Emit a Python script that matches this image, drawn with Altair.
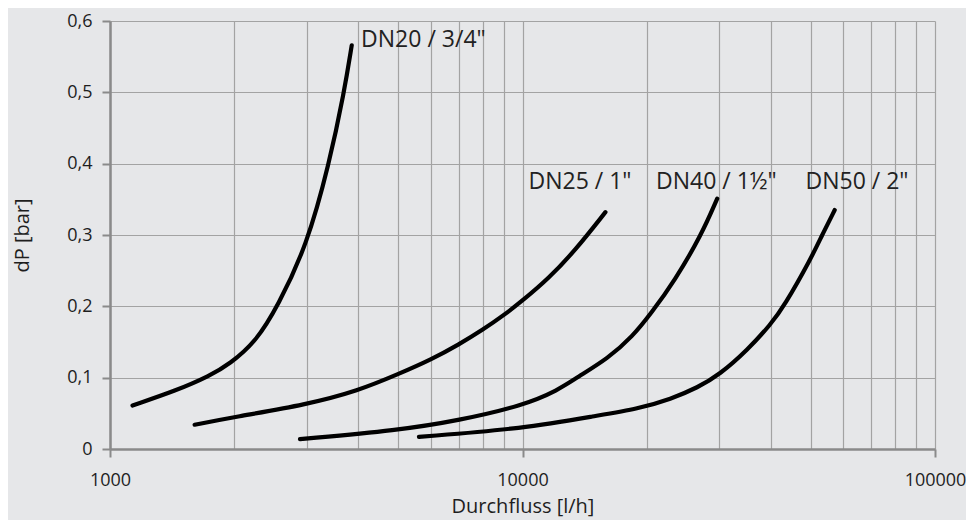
import altair as alt
import pandas as pd

# DN20 / 3/4"
dn20_x = [1134, 1449, 1744, 1950, 2262, 2550, 3000, 3399, 3695, 3855]
dn20_y = [0.061, 0.082, 0.1025, 0.119, 0.151, 0.200, 0.285, 0.400, 0.500, 0.566]
# DN25 / 1"
dn25_x = [1604, 2000, 3000, 4000, 5000, 6020, 7004, 8007, 9033, 10040, 11556, 13405, 15886]
dn25_y = [0.034, 0.0448, 0.0623, 0.0817, 0.105, 0.1256, 0.1464, 0.167, 0.188, 0.2088, 0.2388, 0.278, 0.332]
# DN40 / 1 1/2"
dn40_x = [2888, 5000, 7004, 10040, 12220, 13530, 16130, 18500, 20490, 23380, 27150, 29650]
dn40_y = [0.0139, 0.0263, 0.040, 0.061, 0.0827, 0.100, 0.127, 0.158, 0.190, 0.236, 0.300, 0.351]
# DN50 / 2"
dn50_x = [5610, 10040, 15260, 19060, 22940, 26610, 30000, 35150, 40000, 43050, 50000, 53160, 57130]
dn50_y = [0.017, 0.0286, 0.047, 0.0564, 0.0702, 0.0863, 0.104, 0.139, 0.175, 0.200, 0.2665, 0.299, 0.335]

series_names = ["DN20 / 3/4\"", "DN25 / 1\"", "DN40 / 1½\"", "DN50 / 2\""]
label_x = [4062, 10339, 21070, 48530]
label_y = [0.5736, 0.374, 0.374, 0.374]

x_grid_values = [1000, 2000, 3000, 4000, 5000, 6000, 7000, 8000, 9000,
                 10000, 20000, 30000, 40000, 50000, 60000, 70000, 80000, 90000, 100000]
y_values = [0, 0.1, 0.2, 0.3, 0.4, 0.5, 0.6]

rows = []
for name, xs, ys in zip(series_names, [dn20_x, dn25_x, dn40_x, dn50_x], [dn20_y, dn25_y, dn40_y, dn50_y]):
    for i, (xv, yv) in enumerate(zip(xs, ys)):
        rows.append({"series": name, "x": xv, "y": yv, "order": i})
df = pd.DataFrame(rows)
labels = pd.DataFrame({"series": series_names, "x": label_x, "y": label_y})

FONT = "Open Sans"
TEXT = "#1e1e1e"

major = "datum.value == 1000 || datum.value == 10000 || datum.value == 100000"

x_scale = alt.Scale(type="log", domain=[1000, 100000], nice=False)
y_scale = alt.Scale(domain=[0, 0.6], nice=False)

x_enc = alt.X("x:Q", scale=x_scale, title="Durchfluss [l/h]",
              axis=alt.Axis(values=x_grid_values, format="d",
                            labelExpr=f"({major}) ? datum.label : ''",
                            tickOpacity={"condition": {"test": major, "value": 1}, "value": 0},
                            tickSize=8, tickColor="#8a8a8a", tickWidth=2,
                            grid=True, gridColor="#a3a3a3", gridWidth=1.2,
                            domainColor="#8a8a8a", domainWidth=2.5,
                            labelFont=FONT, labelFontSize=18, labelColor=TEXT, labelPadding=14,
                            labelFlush=False,
                            titleFont=FONT, titleFontSize=20, titleFontWeight="normal",
                            titleColor=TEXT, titlePadding=7))
y_enc = alt.Y("y:Q", scale=y_scale, title="dP [bar]",
              axis=alt.Axis(values=y_values,
                            labelExpr="datum.value == 0 ? '0' : replace(format(datum.value, '.1f'), '.', ',')",
                            tickSize=8, tickColor="#8a8a8a", tickWidth=2,
                            grid=True, gridColor="#a3a3a3", gridWidth=1.2,
                            domainColor="#8a8a8a", domainWidth=2.5,
                            labelFont=FONT, labelFontSize=18, labelColor=TEXT, labelPadding=10,
                            titleFont=FONT, titleFontSize=20, titleFontWeight="normal",
                            titleColor=TEXT, titlePadding=34))

lines = alt.Chart(df).mark_line(color="black", strokeWidth=4.2, strokeCap="round",
                                interpolate="basis").encode(
    x=x_enc, y=y_enc, detail="series:N", order="order:Q")

text = alt.Chart(labels).mark_text(align="left", baseline="middle", font=FONT,
                                   fontSize=23, color="#222222").encode(
    x=alt.X("x:Q", scale=x_scale), y=alt.Y("y:Q", scale=y_scale), text="series:N")

chart = alt.layer(lines, text).properties(
    width=825, height=428,
    autosize=alt.AutoSizeParams(type="none"),
    padding={"left": 102, "top": 13, "right": 31, "bottom": 71},
    background="#e6e7e9",
).configure_view(stroke=None)

chart.save("out.html", embed_options={"renderer": "svg", "actions": False})
